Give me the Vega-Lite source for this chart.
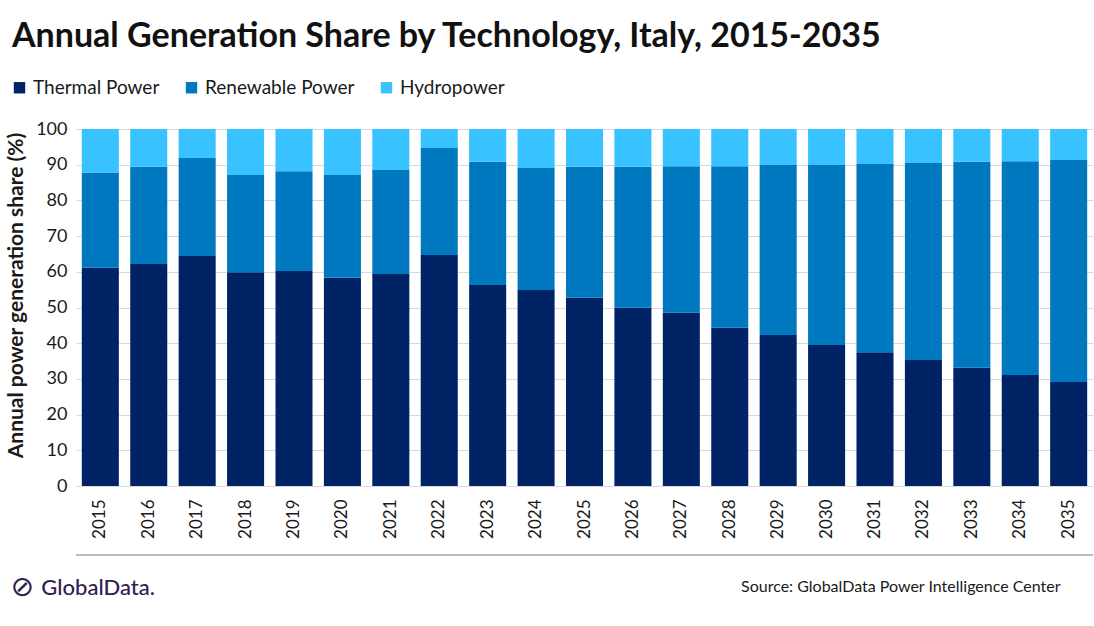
{
  "$schema": "https://vega.github.io/schema/vega-lite/v6.json",
  "autosize": {"type": "none"},
  "width": 1017,
  "height": 357,
  "padding": {"left": 76, "top": 129, "right": 1, "bottom": 140},
  "background": "white",
  "title": {
    "text": "Annual Generation Share by Technology, Italy, 2015-2035",
    "anchor": "start",
    "frame": "group",
    "dx": -64,
    "dy": 30,
    "offset": 27,
    "baseline": "alphabetic",
    "font": "Lato",
    "fontWeight": "bold",
    "fontSize": 34,
    "color": "#111111"
  },
  "config": {
    "view": {"stroke": null},
    "font": "Lato",
    "axis": {"labelFont": "Lato", "titleFont": "Lato", "labelColor": "#1a1a1a", "titleColor": "#1a1a1a"},
    "axisY": {
      "labelOverlap": false,
      "titleFontSize": 21,
      "titleFontWeight": "bold",
      "titlePadding": 9,
      "labelFontSize": 18,
      "labelPadding": 9,
      "domain": false,
      "ticks": false,
      "gridColor": "#d9d9d9",
      "gridWidth": 1
    },
    "legend": {"labelFont": "Lato"}
  },
  "datasets": {
    "shares": [
      {"year": "2015", "tech": "Thermal Power", "share": 61.1},
      {"year": "2015", "tech": "Renewable Power", "share": 26.7},
      {"year": "2015", "tech": "Hydropower", "share": 12.2},
      {"year": "2016", "tech": "Thermal Power", "share": 62.2},
      {"year": "2016", "tech": "Renewable Power", "share": 27.2},
      {"year": "2016", "tech": "Hydropower", "share": 10.6},
      {"year": "2017", "tech": "Thermal Power", "share": 64.4},
      {"year": "2017", "tech": "Renewable Power", "share": 27.5},
      {"year": "2017", "tech": "Hydropower", "share": 8.1},
      {"year": "2018", "tech": "Thermal Power", "share": 59.9},
      {"year": "2018", "tech": "Renewable Power", "share": 27.2},
      {"year": "2018", "tech": "Hydropower", "share": 12.9},
      {"year": "2019", "tech": "Thermal Power", "share": 60.2},
      {"year": "2019", "tech": "Renewable Power", "share": 28.0},
      {"year": "2019", "tech": "Hydropower", "share": 11.8},
      {"year": "2020", "tech": "Thermal Power", "share": 58.3},
      {"year": "2020", "tech": "Renewable Power", "share": 28.8},
      {"year": "2020", "tech": "Hydropower", "share": 12.9},
      {"year": "2021", "tech": "Thermal Power", "share": 59.4},
      {"year": "2021", "tech": "Renewable Power", "share": 29.1},
      {"year": "2021", "tech": "Hydropower", "share": 11.5},
      {"year": "2022", "tech": "Thermal Power", "share": 64.7},
      {"year": "2022", "tech": "Renewable Power", "share": 30.0},
      {"year": "2022", "tech": "Hydropower", "share": 5.3},
      {"year": "2023", "tech": "Thermal Power", "share": 56.3},
      {"year": "2023", "tech": "Renewable Power", "share": 34.5},
      {"year": "2023", "tech": "Hydropower", "share": 9.2},
      {"year": "2024", "tech": "Thermal Power", "share": 54.9},
      {"year": "2024", "tech": "Renewable Power", "share": 34.2},
      {"year": "2024", "tech": "Hydropower", "share": 10.9},
      {"year": "2025", "tech": "Thermal Power", "share": 52.7},
      {"year": "2025", "tech": "Renewable Power", "share": 36.7},
      {"year": "2025", "tech": "Hydropower", "share": 10.6},
      {"year": "2026", "tech": "Thermal Power", "share": 49.9},
      {"year": "2026", "tech": "Renewable Power", "share": 39.5},
      {"year": "2026", "tech": "Hydropower", "share": 10.6},
      {"year": "2027", "tech": "Thermal Power", "share": 48.5},
      {"year": "2027", "tech": "Renewable Power", "share": 41.1},
      {"year": "2027", "tech": "Hydropower", "share": 10.4},
      {"year": "2028", "tech": "Thermal Power", "share": 44.3},
      {"year": "2028", "tech": "Renewable Power", "share": 45.3},
      {"year": "2028", "tech": "Hydropower", "share": 10.4},
      {"year": "2029", "tech": "Thermal Power", "share": 42.3},
      {"year": "2029", "tech": "Renewable Power", "share": 47.6},
      {"year": "2029", "tech": "Hydropower", "share": 10.1},
      {"year": "2030", "tech": "Thermal Power", "share": 39.5},
      {"year": "2030", "tech": "Renewable Power", "share": 50.4},
      {"year": "2030", "tech": "Hydropower", "share": 10.1},
      {"year": "2031", "tech": "Thermal Power", "share": 37.5},
      {"year": "2031", "tech": "Renewable Power", "share": 52.7},
      {"year": "2031", "tech": "Hydropower", "share": 9.8},
      {"year": "2032", "tech": "Thermal Power", "share": 35.3},
      {"year": "2032", "tech": "Renewable Power", "share": 55.2},
      {"year": "2032", "tech": "Hydropower", "share": 9.5},
      {"year": "2033", "tech": "Thermal Power", "share": 33.1},
      {"year": "2033", "tech": "Renewable Power", "share": 57.7},
      {"year": "2033", "tech": "Hydropower", "share": 9.2},
      {"year": "2034", "tech": "Thermal Power", "share": 31.1},
      {"year": "2034", "tech": "Renewable Power", "share": 59.9},
      {"year": "2034", "tech": "Hydropower", "share": 9.0},
      {"year": "2035", "tech": "Thermal Power", "share": 29.1},
      {"year": "2035", "tech": "Renewable Power", "share": 62.2},
      {"year": "2035", "tech": "Hydropower", "share": 8.7}
    ],
    "footer": [
      {"logo": "GlobalData.", "icon": "⊘"}
    ]
  },
  "layer": [
    {
      "data": {"name": "shares"},
      "mark": {"type": "bar"},
      "encoding": {
        "x": {
          "field": "year",
          "type": "ordinal",
          "scale": {"paddingInner": 0.235, "paddingOuter": 0.12},
          "axis": {
            "labelAngle": -90,
            "labelFontSize": 17,
            "labelPadding": 13,
            "labelBaseline": "middle",
            "domain": false,
            "ticks": false,
            "title": "Source: GlobalData Power Intelligence Center",
            "titleAnchor": "end",
            "titleAlign": "right",
            "titleX": 984,
            "titleY": 100,
            "titleBaseline": "middle",
            "titleFontSize": 16,
            "titleFontWeight": "normal"
          }
        },
        "y": {
          "field": "share",
          "type": "quantitative",
          "stack": "zero",
          "scale": {"domain": [0, 100], "nice": false},
          "axis": {"title": "Annual power generation share (%)", "tickCount": 20, "tickMinStep": 10, "titleY": 166}
        },
        "color": {
          "field": "tech",
          "type": "nominal",
          "scale": {
            "domain": ["Thermal Power", "Renewable Power", "Hydropower"],
            "range": ["#002366", "#0078c0", "#38c2ff"]
          },
          "legend": {
            "title": null,
            "orient": "none",
            "direction": "horizontal",
            "legendX": -66,
            "legendY": -51,
            "symbolType": "square",
            "symbolSize": 130,
            "symbolStrokeWidth": 0,
            "labelFontSize": 19,
            "labelColor": "#1a1a1a",
            "labelOffset": 4,
            "columnPadding": 22
          }
        },
        "order": {"field": "stackOrder", "type": "quantitative"}
      },
      "transform": [
        {"lookup": "tech", "from": {"data": {"values": [
          {"tech": "Thermal Power", "stackOrder": 1},
          {"tech": "Renewable Power", "stackOrder": 2},
          {"tech": "Hydropower", "stackOrder": 3}
        ]}, "key": "tech", "fields": ["stackOrder"]}}
      ]
    },
    {
      "data": {"name": "footer"},
      "mark": {"type": "rule", "color": "#a6a6a6", "strokeWidth": 1.5},
      "encoding": {"y": {"datum": -19.3, "type": "quantitative"}}
    },
    {
      "data": {"name": "footer"},
      "mark": {"type": "text", "align": "left", "baseline": "middle", "dx": -59, "font": "Lato", "fontSize": 22, "fontWeight": 500, "color": "#2e2150"},
      "encoding": {
        "x": {"datum": "2015", "type": "ordinal"},
        "y": {"datum": -28.6, "type": "quantitative"},
        "text": {"field": "logo"}
      }
    },
    {
      "data": {"name": "footer"},
      "mark": {"type": "text", "align": "center", "baseline": "middle", "dx": -78, "font": "DejaVu Sans", "fontSize": 28, "color": "#2e2150"},
      "encoding": {
        "x": {"datum": "2015", "type": "ordinal"},
        "y": {"datum": -28.6, "type": "quantitative"},
        "text": {"field": "icon"}
      }
    }
  ]
}
